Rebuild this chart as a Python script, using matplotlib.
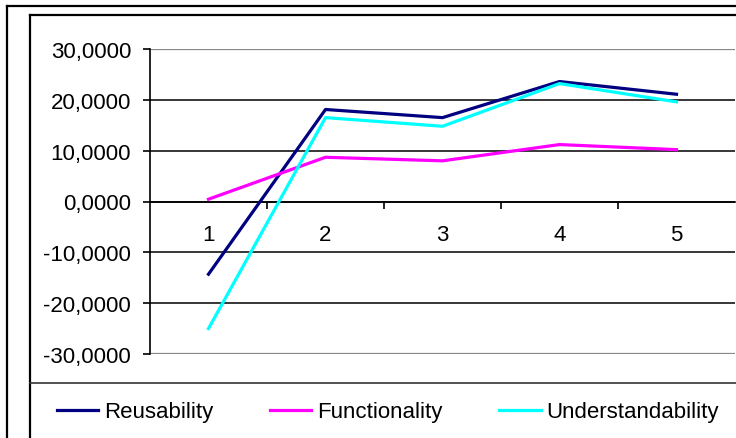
import matplotlib
matplotlib.use("Agg")
import matplotlib.pyplot as plt
from matplotlib.ticker import FuncFormatter, FixedLocator
from matplotlib.lines import Line2D

plt.rcParams['font.family'] = ['Liberation Sans', 'DejaVu Sans']

categories = [1, 2, 3, 4, 5]
category_labels = ["1", "2", "3", "4", "5"]
reusability = [-14.3, 18.1, 16.5, 23.6, 21.1]
functionality = [0.45, 8.7, 8.0, 11.2, 10.2]
understandability = [-25.0, 16.5, 14.8, 23.2, 19.6]
y_ticks = [-30, -20, -10, 0, 10, 20, 30]

W, H = 736, 439
fig = plt.figure(figsize=(W / 100, H / 100), dpi=100)
fig.patch.set_facecolor("white")

def fx(px):
    return px / W

def fy(py):
    return 1 - py / H

# outer and inner chart frames
for x0, y0 in [(7, 7), (30, 16)]:
    fig.add_artist(Line2D([fx(x0), fx(x0)], [fy(y0), fy(H + 5)], color="black", lw=1.6))
    fig.add_artist(Line2D([fx(x0), fx(W + 5)], [fy(y0), fy(y0)], color="black", lw=1.6))
# separator above the legend
fig.add_artist(Line2D([fx(30), fx(W + 5)], [fy(384), fy(384)], color="#333333", lw=1.2))

ax = fig.add_axes([fx(150), fy(355), fx(735) - fx(150), fy(50) - fy(355)])
ax.set_xlim(0.5, 5.5)
ax.set_ylim(-30, 30)

ax.plot(categories, reusability, color="#000080", lw=2.3, label="Reusability", zorder=3)
ax.plot(categories, functionality, color="#FF00FF", lw=2.3, label="Functionality", zorder=3)
ax.plot(categories, understandability, color="#00FFFF", lw=2.3, label="Understandability", zorder=3)

for s in ["top", "right"]:
    ax.spines[s].set_visible(False)
ax.spines["left"].set_color("black")
ax.spines["left"].set_linewidth(1.2)
ax.spines["bottom"].set_position(("data", 0))
ax.spines["bottom"].set_color("black")
ax.spines["bottom"].set_linewidth(1.2)

ax.yaxis.set_major_locator(FixedLocator(y_ticks))
ax.yaxis.set_major_formatter(FuncFormatter(lambda v, p: f"{v:.4f}".replace(".", ",")))
ax.tick_params(axis="y", length=5, width=1.2, pad=8.5, labelsize=16, colors="black")
ax.yaxis.grid(True, color="black", lw=1.1)
gl = ax.get_ygridlines()
gl[0].set_color("#888888")
gl[-1].set_color("#888888")
gl[0].set_linewidth(1.6)
gl[-1].set_linewidth(1.6)

ax.set_xticks(categories)
ax.set_xticklabels(category_labels)
ax.tick_params(axis="x", which="major", length=0, pad=16, labelsize=16)
ax.set_xticks([1.5, 2.5, 3.5, 4.5], minor=True)
ax.tick_params(axis="x", which="minor", length=5, width=1.2, direction="out")
ax.set_axisbelow(True)

fig.legend(loc="center", bbox_to_anchor=(fx(388), fy(413)), ncol=3, frameon=False,
           fontsize=16, handlelength=1.85, handletextpad=0.28, columnspacing=2.55)

fig.savefig("out.png", dpi=100, facecolor="white")
